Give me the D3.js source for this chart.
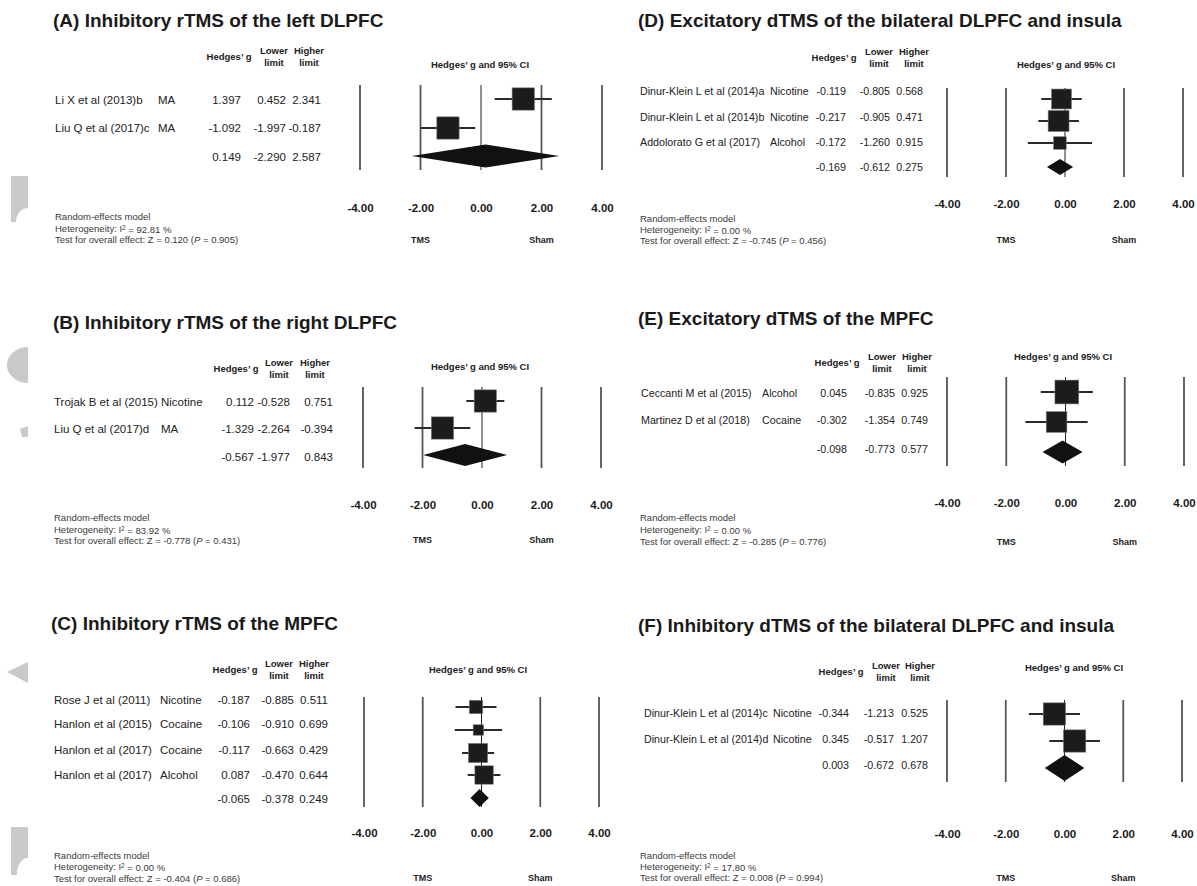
<!DOCTYPE html>
<html>
<head>
<meta charset="utf-8">
<script src="https://cdn.jsdelivr.net/npm/d3@7"></script>
<style>
body { margin: 0; background: #fff; }
svg { display: block; font-family: "Liberation Sans", Arial, sans-serif; }
</style>
</head>
<body>
<svg id="forest" width="1197" height="886"></svg>
<script>
// values (A..F)
var titles = [
  "(A) Inhibitory rTMS of the left DLPFC",
  "(B) Inhibitory rTMS of the right DLPFC",
  "(C) Inhibitory rTMS of the MPFC",
  "(D) Excitatory dTMS of the bilateral DLPFC and insula",
  "(E) Excitatory dTMS of the MPFC",
  "(F) Inhibitory dTMS of the bilateral DLPFC and insula"
];
var studies = [
  ["Li X et al (2013)b", "Liu Q et al (2017)c"],
  ["Trojak B et al (2015)", "Liu Q et al (2017)d"],
  ["Rose J et al (2011)", "Hanlon et al (2015)", "Hanlon et al (2017)", "Hanlon et al (2017)"],
  ["Dinur-Klein L et al (2014)a", "Dinur-Klein L et al (2014)b", "Addolorato G et al (2017)"],
  ["Ceccanti M et al (2015)", "Martinez D et al (2018)"],
  ["Dinur-Klein L et al (2014)c", "Dinur-Klein L et al (2014)d"]
];
var drugs = [
  ["MA", "MA"],
  ["Nicotine", "MA"],
  ["Nicotine", "Cocaine", "Cocaine", "Alcohol"],
  ["Nicotine", "Nicotine", "Alcohol"],
  ["Alcohol", "Cocaine"],
  ["Nicotine", "Nicotine"]
];
var hedgesG = [
  [1.397, -1.092],
  [0.112, -1.329],
  [-0.187, -0.106, -0.117, 0.087],
  [-0.119, -0.217, -0.172],
  [0.045, -0.302],
  [-0.344, 0.345]
];
var lowerLimit = [
  [0.452, -1.997],
  [-0.528, -2.264],
  [-0.885, -0.910, -0.663, -0.470],
  [-0.805, -0.905, -1.260],
  [-0.835, -1.354],
  [-1.213, -0.517]
];
var higherLimit = [
  [2.341, -0.187],
  [0.751, -0.394],
  [0.511, 0.699, 0.429, 0.644],
  [0.568, 0.471, 0.915],
  [0.925, 0.749],
  [0.525, 1.207]
];
// relative weights (%), estimated from square sizes
var weights = [
  [50, 50],
  [50, 50],
  [18, 11, 37, 34],
  [40, 44, 16],
  [57, 43],
  [50, 50]
];
// pooled g, lower, higher
var pooled = [
  [0.149, -2.290, 2.587],
  [-0.567, -1.977, 0.843],
  [-0.065, -0.378, 0.249],
  [-0.169, -0.612, 0.275],
  [-0.098, -0.773, 0.577],
  [0.003, -0.672, 0.678]
];
var heterogeneity = ["92.81", "83.92", "0.00", "0.00", "0.00", "17.80"];
var zValue = ["0.120", "-0.778", "-0.404", "-0.745", "-0.285", "0.008"];
var pValue = ["0.905", "0.431", "0.686", "0.456", "0.776", "0.994"];
var tickValues = [-4, -2, 0, 2, 4];

// where each panel sits on the page
var layout = [
  {tx:53, ty:20, lx:55, dx:158, hy:57, hx:[229,274,309], cx:480, cy:65, rowY:[100,128,157], markY:[99,128,156], vx:[241,286,321], ax:[360,602], ly:[85,170], tickY:208, legY:240, fx:55, fy:[217,229,240], fs:11.5, dh:23},
  {tx:53, ty:322, lx:54, dx:161, hy:369, hx:[236,279,315], cx:480, cy:367, rowY:[402,429,457], markY:[401,428,455], vx:[254,290,333], ax:[363,601], ly:[387,468], tickY:505, legY:540, fx:54, fy:[518,530,541], fs:11.5, dh:22},
  {tx:51, ty:623, lx:54, dx:160, hy:670, hx:[235,279,314], cx:478, cy:670, rowY:[700,724,750,775,799], markY:[707,730,753,775,798], vx:[250,294,328], ax:[364,599], ly:[697,807], tickY:833, legY:878, fx:54, fy:[856,867,879], fs:11.5, dh:18},
  {tx:638, ty:20, lx:640, dx:770, hy:58, hx:[834,879,914], cx:1066, cy:65, rowY:[91,117,142,167], markY:[99,121,143,167], vx:[846,890,923], ax:[947,1183], ly:[88,177], tickY:204, legY:240, fx:640, fy:[219,230,241], fs:10.7, dh:16},
  {tx:638, ty:318, lx:641, dx:762, hy:363, hx:[837,882,917], cx:1063, cy:357, rowY:[393,420,449], markY:[392,422,452], vx:[847,895,928], ax:[947,1184], ly:[377,466], tickY:503, legY:542, fx:640, fy:[518,530,542], fs:10.7, dh:23},
  {tx:638, ty:625, lx:644, dx:773, hy:672, hx:[841,886,920], cx:1074, cy:668, rowY:[713,739,765], markY:[714,741,768], vx:[849,894,928], ax:[947,1182], ly:[700,782], tickY:834, legY:878, fx:640, fy:[856,867,878], fs:10.7, dh:26}
];

var svg = d3.select("#forest");
var size = d3.scaleSqrt().domain([0, 100]).range([0, 31.5]);
var fmt = function(v) { return v.toFixed(3); };

// grey scraps along the left edge of the scanned figure
var scraps = [
  "M11,176 L28,176 L28,208 A12,14 0 0 0 16,222 L11,222 Z",
  "M28,347 A21,18 0 0 0 28,383 Z",
  "M20,429 L28,426 L28,437 L22,437 Z",
  "M7,672 L28,662 L28,683 Z",
  "M11,827 L28,827 L28,858 A11,16 0 0 0 17,875 L11,875 Z"
];
svg.selectAll("path.scrap").data(scraps).enter().append("path")
  .attr("class", "scrap").attr("d", function(d) { return d; }).attr("fill", "#c9c9c9");

titles.forEach(function(title, p) {
  var L = layout[p];
  var g = svg.append("g").attr("class", "panel");
  var x = d3.scaleLinear().domain([-4, 4]).range(L.ax);

  g.append("text").attr("x", L.tx).attr("y", L.ty).attr("dy", "0.35em")
    .attr("font-size", 19).attr("font-weight", "bold").attr("fill", "#1a1a1a").text(title);

  // column headers
  var hdr = g.append("g").attr("font-size", 9.5).attr("font-weight", "bold").attr("fill", "#222").attr("text-anchor", "middle");
  hdr.append("text").attr("x", L.hx[0]).attr("y", L.hy).attr("dy", "0.35em").text("Hedges\u2019 g");
  [["Lower", "limit"], ["Higher", "limit"]].forEach(function(h, k) {
    hdr.append("text").attr("x", L.hx[k + 1]).attr("y", L.hy - 6).attr("dy", "0.35em").text(h[0]);
    hdr.append("text").attr("x", L.hx[k + 1]).attr("y", L.hy + 6).attr("dy", "0.35em").text(h[1]);
  });
  hdr.append("text").attr("x", L.cx).attr("y", L.cy).attr("dy", "0.35em").text("Hedges\u2019 g and 95% CI");

  var rows = studies[p].map(function(s, i) {
    return {study: s, drug: drugs[p][i], g: hedgesG[p][i], lo: lowerLimit[p][i], hi: higherLimit[p][i], w: weights[p][i]};
  });
  rows.push({study: "", drug: "", g: pooled[p][0], lo: pooled[p][1], hi: pooled[p][2], pooled: true});

  var txt = g.append("g").attr("font-size", L.fs).attr("fill", "#222");
  rows.forEach(function(r, i) {
    var y = L.rowY[i];
    txt.append("text").attr("x", L.lx).attr("y", y).attr("dy", "0.35em").text(r.study);
    txt.append("text").attr("x", L.dx).attr("y", y).attr("dy", "0.35em").text(r.drug);
    [r.g, r.lo, r.hi].forEach(function(v, k) {
      txt.append("text").attr("x", L.vx[k]).attr("y", y).attr("dy", "0.35em")
        .attr("text-anchor", "end").text(fmt(v));
    });
  });

  // reference lines
  g.selectAll("line.ref").data(tickValues).enter().append("line")
    .attr("class", "ref")
    .attr("x1", function(d) { return x(d); }).attr("x2", function(d) { return x(d); })
    .attr("y1", L.ly[0]).attr("y2", L.ly[1])
    .attr("stroke", function(d) { return d === 0 ? "#222" : "#555"; })
    .attr("stroke-width", function(d) { return d === 0 ? 1 : 1.8; });

  var studyRows = rows.filter(function(r) { return !r.pooled; });
  g.selectAll("line.ci").data(studyRows).enter().append("line")
    .attr("class", "ci")
    .attr("x1", function(d) { return x(d.lo); }).attr("x2", function(d) { return x(d.hi); })
    .attr("y1", function(d, i) { return L.markY[i]; }).attr("y2", function(d, i) { return L.markY[i]; })
    .attr("stroke", "#2a2a2a").attr("stroke-width", 2);

  g.selectAll("rect.box").data(studyRows).enter().append("rect")
    .attr("class", "box")
    .attr("x", function(d) { return x(d.g) - size(d.w) / 2; })
    .attr("y", function(d, i) { return L.markY[i] - size(d.w) / 2; })
    .attr("width", function(d) { return size(d.w); })
    .attr("height", function(d) { return size(d.w); })
    .attr("fill", "#1c1c1c").attr("stroke", "#777").attr("stroke-width", 0.6);

  var pr = rows[rows.length - 1], my = L.markY[rows.length - 1];
  g.append("path")
    .attr("d", "M" + x(pr.lo) + "," + my + "L" + x(pr.g) + "," + (my - L.dh / 2) +
      "L" + x(pr.hi) + "," + my + "L" + x(pr.g) + "," + (my + L.dh / 2) + "Z")
    .attr("fill", "#111");

  // tick labels only
  var axis = g.append("g").attr("transform", "translate(0," + L.tickY + ")")
    .call(d3.axisBottom(x).tickValues(tickValues).tickSize(0)
      .tickFormat(function(d) { return d.toFixed(2); }));
  axis.select(".domain").remove();
  axis.selectAll("text").attr("y", 0).attr("dy", "0.35em")
    .attr("font-size", 11.5).attr("font-weight", "bold").attr("fill", "#1a1a1a")
    .attr("font-family", "'Liberation Sans', Arial, sans-serif");

  g.append("text").attr("x", x(-2)).attr("y", L.legY).attr("dy", "0.35em").attr("text-anchor", "middle")
    .attr("font-size", 9).attr("font-weight", "bold").attr("fill", "#222").text("TMS");
  g.append("text").attr("x", x(2)).attr("y", L.legY).attr("dy", "0.35em").attr("text-anchor", "middle")
    .attr("font-size", 9).attr("font-weight", "bold").attr("fill", "#222").text("Sham");

  // footer
  var ft = g.append("g").attr("font-size", 9.5).attr("fill", "#3a3a3a");
  ft.append("text").attr("x", L.fx).attr("y", L.fy[0]).attr("dy", "0.35em").text("Random-effects model");
  var het = ft.append("text").attr("x", L.fx).attr("y", L.fy[1]).attr("dy", "0.35em");
  het.append("tspan").text("Heterogeneity: I");
  het.append("tspan").attr("dy", "-0.35em").attr("font-size", 6.5).text("2");
  het.append("tspan").attr("dy", "0.35em").text(" = " + heterogeneity[p] + " %");
  var test = ft.append("text").attr("x", L.fx).attr("y", L.fy[2]).attr("dy", "0.35em");
  test.append("tspan").text("Test for overall effect: Z = " + zValue[p] + " (");
  test.append("tspan").attr("font-style", "italic").text("P");
  test.append("tspan").text(" = " + pValue[p] + ")");
});
</script>
</body>
</html>
